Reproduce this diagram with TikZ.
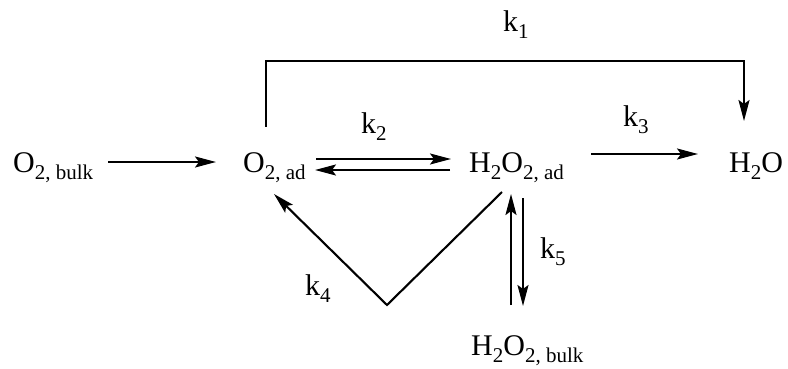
\documentclass[tikz,border=0pt]{standalone}
\usepackage{fontspec}
\setmainfont{Liberation Serif}
\usetikzlibrary{arrows.meta}
\newcommand\sbs[1]{\raisebox{-7pt}{\fontsize{21}{21}\selectfont #1}}
\begin{document}
\begin{tikzpicture}[x=1pt,y=-1pt,
  lbl/.style={anchor=base west,inner sep=0pt,font=\fontsize{30}{32}\selectfont},
  ln/.style={line width=2.1pt},
  arr/.style={ln,-{Stealth[length=21pt,width=11pt,inset=4pt]}}]
\useasboundingbox (0,0) rectangle (788,369);
% species
\node[lbl] (bulk) at (13,172) {O\sbs{2, bulk}};
\node[lbl] (ad) at (243,172) {O\sbs{2, ad}};
\node[lbl] (hpad) at (469,172) {H\sbs{2}O\sbs{2, ad}};
\node[lbl] (water) at (729,172) {H\sbs{2}O};
\node[lbl] (hpbulk) at (471,355) {H\sbs{2}O\sbs{2, bulk}};
% rate labels
\node[lbl] (k1) at (503,32) {k\sbs{1}};
\node[lbl] (k2) at (361,133) {k\sbs{2}};
\node[lbl] (k3) at (623,127) {k\sbs{3}};
\node[lbl] (k4) at (305,295) {k\sbs{4}};
\node[lbl] (k5) at (540,258) {k\sbs{5}};
% connector points
\coordinate (c1s) at (266,127);
\coordinate (c1a) at (266,61);
\coordinate (c1b) at (744,61);
\coordinate (c1e) at (744,121);
\coordinate (b1) at (108,162);
\coordinate (b2) at (216,162);
\coordinate (f1) at (316,159);
\coordinate (f2) at (451,159);
\coordinate (r1) at (450,170);
\coordinate (r2) at (315,170);
\coordinate (t1) at (591,154);
\coordinate (t2) at (698,154);
\coordinate (v1) at (502,192);
\coordinate (v2) at (387,305);
\coordinate (v3) at (274,194);
\coordinate (u1) at (511,305);
\coordinate (u2) at (511,194);
\coordinate (d1) at (523,198);
\coordinate (d2) at (523,306);
% connectors
\draw[arr] (c1s) -- (c1a) -- (c1b) -- (c1e);
\draw[arr] (b1) -- (b2);
\draw[arr] (f1) -- (f2);
\draw[arr] (r1) -- (r2);
\draw[arr] (t1) -- (t2);
\draw[arr] (v1) -- (v2) -- (v3);
\draw[arr] (u1) -- (u2);
\draw[arr] (d1) -- (d2);
\end{tikzpicture}
\end{document}
